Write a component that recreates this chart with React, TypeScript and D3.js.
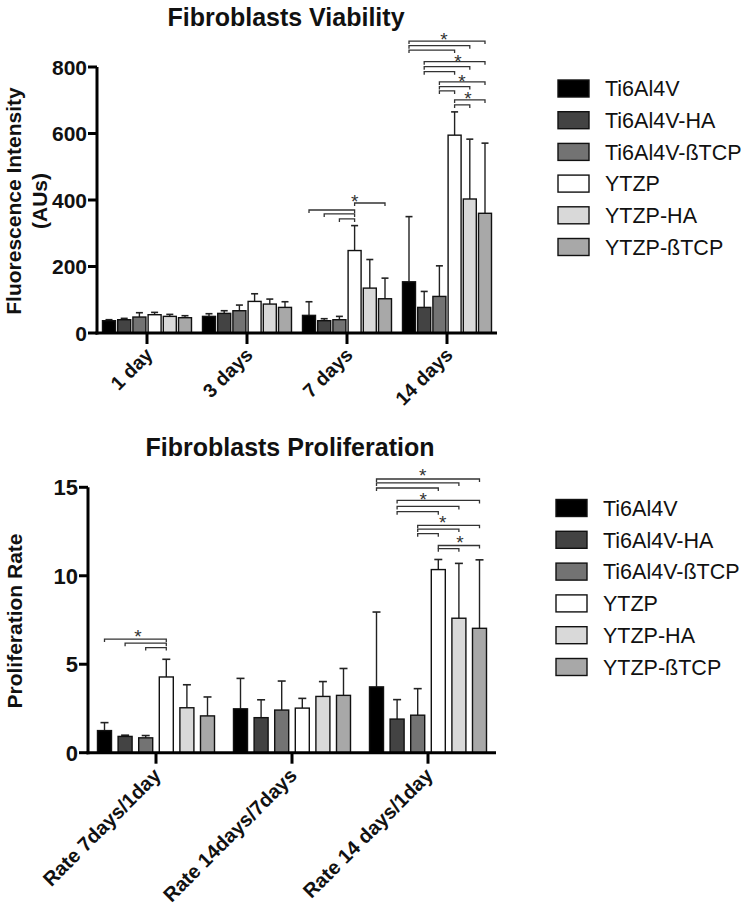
import React from 'react';
import * as d3 from 'd3';

const seriesNames = ['Ti6Al4V', 'Ti6Al4V-HA', 'Ti6Al4V-ßTCP', 'YTZP', 'YTZP-HA', 'YTZP-ßTCP'];
const seriesColors = ['#000000', '#434343', '#737373', '#ffffff', '#d9d9d9', '#a8a8a8'];

// Fibroblasts Viability
const viabilityCategories = ['1 day', '3 days', '7 days', '14 days'];
const viabilityMean = [
  [37, 40, 48, 55, 50, 46],
  [50, 59, 67, 95, 87, 77],
  [53, 37, 40, 248, 135, 103],
  [154, 77, 110, 595, 403, 360],
];
const viabilityErr = [
  [40, 44, 61, 62, 56, 52],
  [58, 67, 84, 118, 102, 94],
  [94, 43, 50, 323, 221, 165],
  [350, 125, 202, 665, 583, 571],
];
const viabilityTicks = [0, 200, 400, 600, 800];
// [category, fromBar, toBar, level]
const viabilityBrackets = [
  [2, 0, 3, 370], [2, 1, 3, 358], [2, 2, 3, 343], [2, 3, 5, 391],
  [3, 0, 5, 878], [3, 0, 4, 864], [3, 0, 3, 851],
  [3, 1, 5, 816], [3, 1, 4, 801], [3, 1, 3, 786],
  [3, 2, 5, 755], [3, 2, 4, 741], [3, 2, 3, 728],
  [3, 3, 5, 701], [3, 3, 4, 686],
];
// [category, bar position, level]
const viabilityStars = [
  [2, 3, 409], [3, 2.3, 896], [3, 3.22, 830], [3, 3.49, 770], [3, 3.88, 719],
];

// Fibroblasts Proliferation
const prolifCategories = ['Rate 7days/1day', 'Rate 14days/7days', 'Rate 14 days/1day'];
const prolifMean = [
  [1.25, 0.92, 0.84, 4.28, 2.54, 2.08],
  [2.48, 1.98, 2.41, 2.52, 3.18, 3.24],
  [3.72, 1.9, 2.12, 10.35, 7.6, 7.03],
];
const prolifErr = [
  [1.7, 0.99, 0.97, 5.28, 3.84, 3.15],
  [4.2, 2.99, 4.05, 3.07, 4.02, 4.76],
  [7.95, 3.0, 3.62, 10.92, 10.7, 10.9],
];
const prolifTicks = [0, 5, 10, 15];
const prolifBrackets = [
  [0, 0, 3, 6.42], [0, 1, 3, 6.19], [0, 2, 3, 5.94],
  [2, 0, 5, 15.47], [2, 0, 4, 15.25], [2, 0, 3, 14.96],
  [2, 1, 5, 14.26], [2, 1, 4, 13.92], [2, 1, 3, 13.62],
  [2, 2, 5, 12.85], [2, 2, 4, 12.64], [2, 2, 3, 12.38],
  [2, 3, 5, 11.71], [2, 3, 4, 11.53],
];
const prolifStars = [
  [0, 1.63, 6.83], [2, 2.24, 15.9], [2, 2.27, 14.58], [2, 3.21, 13.27], [2, 4.05, 12.13],
];

const FONT = "'Liberation Sans', Arial, Helvetica, sans-serif";

type PanelProps = {
  categories: string[];
  means: number[][];
  errs: number[][];
  ticks: number[];
  yDomain: [number, number];
  yRange: [number, number];
  xRange: [number, number];
  innerW: number;
  pad: number;
  brackets: number[][];
  stars: number[][];
  starFont: number;
  title: string;
  titleX: number;
  titleY: number;
  yLabels: { text: string; x: number }[];
  yLabelY: number;
  tickFont: number;
  xFont: number;
  xOff: [number, number];
  capHalf: number;
  legendX: number;
  legendY0: number;
  legendStep: number;
};

function Panel(p: PanelProps) {
  const y = d3.scaleLinear().domain(p.yDomain).range(p.yRange);
  const x0 = d3.scaleBand<string>().domain(p.categories).range(p.xRange).padding(0);
  const x1 = d3
    .scaleBand<number>()
    .domain(d3.range(seriesNames.length))
    .range([-p.innerW / 2, p.innerW / 2])
    .paddingInner(p.pad)
    .paddingOuter(p.pad / 2);
  const catC = (c: number) => (x0(p.categories[c]) as number) + x0.bandwidth() / 2;
  const barC = (c: number, pos: number) => catC(c) - p.innerW / 2 + x1.step() * (pos + 0.5);
  const bw = x1.bandwidth();
  const y0 = y(0);
  const axX = p.xRange[0];
  return (
    <g fontFamily={FONT}>
      <text x={p.titleX} y={p.titleY} textAnchor="middle" fontWeight="bold" fontSize={25} fill="#111">
        {p.title}
      </text>
      {p.yLabels.map((l, i) => (
        <text
          key={i}
          transform={`translate(${l.x},${p.yLabelY}) rotate(-90)`}
          textAnchor="middle"
          fontWeight="bold"
          fontSize={21}
          fill="#111"
        >
          {l.text}
        </text>
      ))}
      {p.means.map((row, c) =>
        row.map((v, i) => {
          const cx = barC(c, i);
          const e = p.errs[c][i];
          return (
            <g key={`b${c}-${i}`}>
              <line x1={cx} x2={cx} y1={y(v)} y2={y(e)} stroke="#222" strokeWidth={1.4} />
              <line x1={cx - p.capHalf} x2={cx + p.capHalf} y1={y(e)} y2={y(e)} stroke="#222" strokeWidth={1.6} />
              <rect
                x={cx - bw / 2}
                y={y(v)}
                width={bw}
                height={y0 - y(v)}
                fill={seriesColors[i]}
                stroke="#111"
                strokeWidth={1.4}
              />
            </g>
          );
        })
      )}
      {p.brackets.map((b, k) => {
        const xa = barC(b[0], b[1]);
        const xb = barC(b[0], b[2]);
        const yy = y(b[3]);
        return (
          <path
            key={`k${k}`}
            d={`M${xa},${yy + 3}V${yy}H${xb}V${yy + 3}`}
            fill="none"
            stroke="#333"
            strokeWidth={1.3}
          />
        );
      })}
      {p.stars.map((s, k) => (
        <text
          key={`s${k}`}
          x={barC(s[0], s[1])}
          y={y(s[2]) + p.starFont * 0.58}
          textAnchor="middle"
          fontSize={p.starFont}
          fill="#333"
        >
          *
        </text>
      ))}
      {/* axes */}
      <line x1={axX} x2={axX} y1={y0 + 1.5} y2={y(p.yDomain[1])} stroke="#000" strokeWidth={3} />
      <line x1={axX - 1.5} x2={p.xRange[1]} y1={y0} y2={y0} stroke="#000" strokeWidth={3} />
      {p.ticks.map((t) => (
        <g key={`t${t}`}>
          <line x1={axX - 9} x2={axX} y1={y(t)} y2={y(t)} stroke="#000" strokeWidth={3} />
          <text x={axX - 10} y={y(t)} dy="0.36em" textAnchor="end" fontWeight="bold" fontSize={p.tickFont} fill="#111">
            {t}
          </text>
        </g>
      ))}
      {p.categories.map((c, i) => {
        const cx = catC(i);
        return (
          <g key={`c${i}`}>
            <line x1={cx} x2={cx} y1={y0} y2={y0 + 11} stroke="#000" strokeWidth={3} />
            <text
              transform={`translate(${cx + p.xOff[0]},${y0 + p.xOff[1]}) rotate(-45)`}
              textAnchor="end"
              fontWeight="bold"
              fontSize={p.xFont}
              fill="#111"
            >
              {c}
            </text>
          </g>
        );
      })}
      {/* legend */}
      {seriesNames.map((n, i) => {
        const cy = p.legendY0 + i * p.legendStep;
        return (
          <g key={`l${i}`}>
            <rect x={p.legendX} y={cy - 8.5} width={31} height={17} fill={seriesColors[i]} stroke="#111" strokeWidth={1.4} />
            <text x={p.legendX + 47} y={cy + 7.7} fontSize={21.5} fill="#111">
              {n}
            </text>
          </g>
        );
      })}
    </g>
  );
}

export default function App() {
  return (
    <svg
      width={750}
      height={907}
      style={{ position: 'absolute', left: 0, top: 0, display: 'block', background: '#fff' }}
    >
      <rect width={750} height={907} fill="#fff" />
      <Panel
        categories={viabilityCategories}
        means={viabilityMean}
        errs={viabilityErr}
        ticks={viabilityTicks}
        yDomain={[0, 800]}
        yRange={[333, 67]}
        xRange={[97, 497]}
        innerW={91.2}
        pad={0.145}
        brackets={viabilityBrackets}
        stars={viabilityStars}
        starFont={19}
        title="Fibroblasts Viability"
        titleX={286}
        titleY={26}
        yLabels={[
          { text: 'Fluorescence Intensity', x: 21 },
          { text: '(AUs)', x: 47 },
        ]}
        yLabelY={201}
        tickFont={21}
        xFont={19.5}
        xOff={[7, 23]}
        capHalf={3.5}
        legendX={558}
        legendY0={88.5}
        legendStep={31.7}
      />
      <Panel
        categories={prolifCategories}
        means={prolifMean}
        errs={prolifErr}
        ticks={prolifTicks}
        yDomain={[0, 15]}
        yRange={[752.7, 487.3]}
        xRange={[88, 496]}
        innerW={123.6}
        pad={0.32}
        brackets={prolifBrackets}
        stars={prolifStars}
        starFont={19}
        title="Fibroblasts Proliferation"
        titleX={290}
        titleY={456}
        yLabels={[{ text: 'Proliferation Rate', x: 22 }]}
        yLabelY={621}
        tickFont={22}
        xFont={20}
        xOff={[6, 24]}
        capHalf={4}
        legendX={556}
        legendY0={508}
        legendStep={31.8}
      />
    </svg>
  );
}
